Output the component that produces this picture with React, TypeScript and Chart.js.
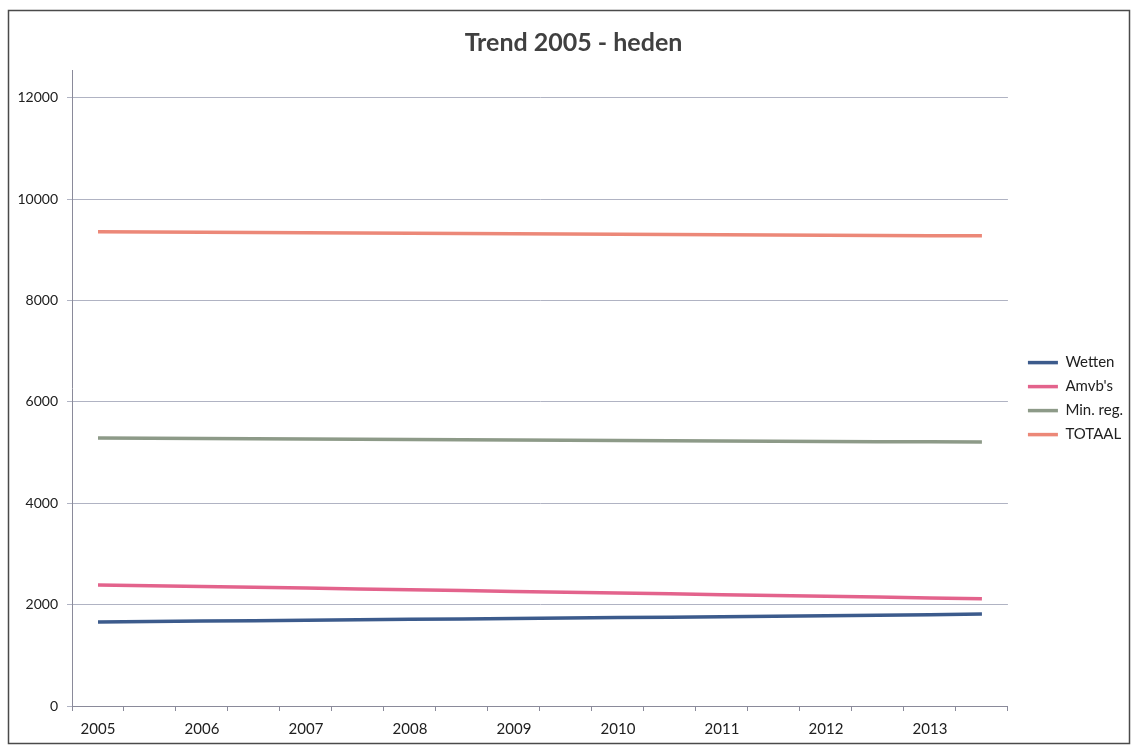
import React, { useEffect, useRef } from "react";
import { Chart, registerables } from "chart.js";

Chart.register(...registerables);

const chartTitle = "Trend 2005 - heden";
const tickLabels = ["2005", "", "2006", "", "2007", "", "2008", "", "2009", "", "2010", "", "2011", "", "2012", "", "2013", ""];
const seriesNames = ["Wetten", "Amvb's", "Min. reg.", "TOTAAL"];
const wetten = [1660, 1665, 1675, 1680, 1690, 1700, 1710, 1715, 1725, 1735, 1745, 1750, 1760, 1770, 1780, 1790, 1800, 1815];
const amvbs = [2390, 2375, 2360, 2345, 2330, 2310, 2295, 2280, 2260, 2245, 2230, 2215, 2195, 2180, 2165, 2150, 2130, 2115];
const minReg = [5290, 5285, 5280, 5275, 5270, 5265, 5260, 5255, 5250, 5245, 5240, 5235, 5230, 5225, 5220, 5215, 5215, 5210];
const totaal = [9360, 9355, 9350, 9345, 9340, 9335, 9330, 9325, 9320, 9315, 9310, 9305, 9300, 9295, 9290, 9285, 9280, 9280];
const yTicks = [0, 2000, 4000, 6000, 8000, 10000, 12000];
const seriesColors = ["#3c5b8c", "#e3638c", "#8d9a88", "#ec8878"];

const FONT = "Lato, 'DejaVu Sans', sans-serif";

export default function App() {
  const ref = useRef<HTMLCanvasElement | null>(null);

  useEffect(() => {
    if (!ref.current) return;
    const frame = {
      id: "frame",
      beforeDraw(chart: any) {
        const ctx = chart.ctx;
        ctx.save();
        ctx.fillStyle = "#ffffff";
        ctx.fillRect(0, 0, chart.width, chart.height);
        ctx.strokeStyle = "#4a4a4a";
        ctx.lineWidth = 1.5;
        ctx.strokeRect(8.5, 10.5, 1121, 733);
        ctx.restore();
      },
    };
    const data = [wetten, amvbs, minReg, totaal];
    const chart = new Chart(ref.current, {
      type: "line",
      data: {
        labels: tickLabels,
        datasets: data.map((d, i) => ({
          label: seriesNames[i],
          data: d,
          borderColor: seriesColors[i],
          backgroundColor: seriesColors[i],
          borderWidth: 3.5,
          pointRadius: 0,
          pointStyle: "line",
          tension: 0,
        })),
      },
      options: {
        animation: false,
        responsive: false,
        maintainAspectRatio: false,
        layout: { padding: { left: 14, right: 0, top: 20, bottom: 8 } },
        plugins: {
          title: {
            display: true,
            text: chartTitle,
            color: "#404040",
            font: { family: FONT, size: 25, weight: "bold" },
            padding: { top: 8, bottom: 12 },
          },
          legend: {
            position: "right",
            title: { display: true, text: " ", font: { size: 1 }, padding: { top: 37, bottom: 0 } },
            labels: {
              usePointStyle: true,
              pointStyle: "line",
              pointStyleWidth: 30,
              padding: 9,
              color: "#202020",
              font: { family: FONT, size: 15 },
            },
          },
          tooltip: { enabled: false },
        },
        scales: {
          x: {
            offset: true,
            grid: { display: true, drawOnChartArea: false, drawTicks: true, tickLength: 5, offset: true, color: "#8a8a9a" },
            border: { display: true, color: "#8a8a9a" },
            ticks: { autoSkip: false, maxRotation: 0, padding: 9, color: "#202020", font: { family: FONT, size: 15 } },
            afterFit: (s: any) => { s.height = 33; },
          },
          y: {
            min: 0,
            max: 12550,
            ticks: { padding: 9, color: "#202020", font: { family: FONT, size: 14 }, callback: (v: any) => String(v) },
            afterBuildTicks: (s: any) => { s.ticks = yTicks.map((v) => ({ value: v })); },
            grid: { color: "#b0b3c3", lineWidth: 1, tickLength: 5 },
            border: { display: true, color: "#8a8a9a" },
            afterFit: (s: any) => { s.width = 58; },
          },
          gap: {
            position: "right",
            display: true,
            grid: { display: false },
            ticks: { display: false },
            border: { display: false },
            afterFit: (s: any) => { s.width = 11; },
          },
        },
      },
      plugins: [frame],
    } as any);
    return () => chart.destroy();
  }, []);

  return (
    <div style={{ position: "absolute", left: 0, top: 0, width: 1133, height: 747 }}>
      <canvas ref={ref} width={1133} height={747} style={{ width: 1133, height: 747 }} />
    </div>
  );
}
